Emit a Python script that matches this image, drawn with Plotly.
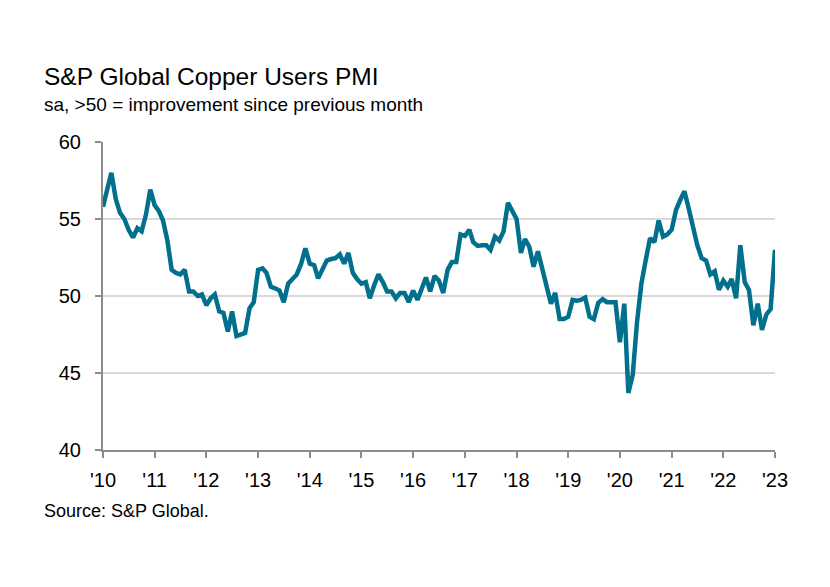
import pandas as pd
import plotly.graph_objects as go

# Monthly PMI readings (sa), Jan 2010 - Jan 2023
pmi_2010 = [55.8, 57.0, 58.0, 56.3, 55.4, 55.0, 54.3, 53.8, 54.4, 54.2, 55.3, 56.9]
pmi_2011 = [55.9, 55.5, 54.9, 53.6, 51.7, 51.5, 51.4, 51.7, 50.3, 50.3, 50.0, 50.1]
pmi_2012 = [49.4, 49.85, 50.1, 49.0, 48.9, 47.7, 49.0, 47.4, 47.5, 47.6, 49.2, 49.6]
pmi_2013 = [51.7, 51.8, 51.5, 50.6, 50.5, 50.35, 49.6, 50.8, 51.1, 51.4, 52.1, 53.1]
pmi_2014 = [52.1, 52.0, 51.15, 51.8, 52.3, 52.4, 52.45, 52.7, 52.1, 52.8, 51.5, 51.1]
pmi_2015 = [50.8, 50.9, 49.85, 50.7, 51.4, 50.9, 50.3, 50.3, 49.85, 50.2, 50.2, 49.6]
pmi_2016 = [50.35, 49.75, 50.4, 51.2, 50.3, 51.3, 51.0, 50.2, 51.7, 52.2, 52.2, 54.0]
pmi_2017 = [53.9, 54.3, 53.5, 53.25, 53.3, 53.3, 53.0, 53.85, 53.6, 54.2, 56.05, 55.5]
pmi_2018 = [55.0, 52.8, 53.7, 53.2, 51.9, 52.9, 51.7, 50.6, 49.5, 50.2, 48.5, 48.5]
pmi_2019 = [48.65, 49.75, 49.7, 49.75, 49.9, 48.65, 48.5, 49.55, 49.8, 49.6, 49.6, 49.6]
pmi_2020 = [47.0, 49.5, 43.7, 44.9, 48.3, 50.8, 52.3, 53.75, 53.5, 54.9, 53.85, 54.0]
pmi_2021 = [54.3, 55.6, 56.2, 56.8, 55.7, 54.4, 53.3, 52.45, 52.3, 51.4, 51.6, 50.4]
pmi_2022 = [51.0, 50.6, 51.1, 49.85, 53.3, 50.9, 50.4, 48.1, 49.5, 47.8, 48.8, 49.15]
pmi_2023 = [53.0]

year_ticks = ["'10", "'11", "'12", "'13", "'14", "'15", "'16", "'17",
              "'18", "'19", "'20", "'21", "'22", "'23"]
y_ticks = [40, 45, 50, 55, 60]

values = (pmi_2010 + pmi_2011 + pmi_2012 + pmi_2013 + pmi_2014 + pmi_2015 +
          pmi_2016 + pmi_2017 + pmi_2018 + pmi_2019 + pmi_2020 + pmi_2021 +
          pmi_2022 + pmi_2023)
dates = pd.date_range("2010-01-01", periods=len(values), freq="MS")
tick_dates = pd.date_range("2010-01-01", periods=len(year_ticks), freq="YS")

# window is 830x587; the page body adds an 8px margin around the figure
OFF = 8
W, H = 830 - 2 * OFF, 587 - 2 * OFF
L, R, T, B = 102.5, 775.3, 141.7, 450.2   # plot-area edges in window pixels


def px_x(x):
    return (x - L) / (R - L)


def px_y(y):
    return (B - y) / (B - T)


FONT = "Liberation Sans, Arial, sans-serif"
LINE = "#00708C"

fig = go.Figure()
fig.add_trace(go.Scatter(
    x=dates, y=values, mode="lines",
    line=dict(color=LINE, width=4.5),
    hoverinfo="x+y", showlegend=False,
))

fig.update_layout(
    width=W, height=H,
    margin=dict(l=L - OFF, r=W - (R - OFF), t=T - OFF, b=H - (B - OFF), pad=0),
    paper_bgcolor="white", plot_bgcolor="white",
    font=dict(family=FONT, color="#000000"),
    xaxis=dict(
        range=[dates[0], tick_dates[-1]],
        tickvals=tick_dates, ticktext=year_ticks,
        showgrid=False, zeroline=False,
        showline=True, linecolor="#8c8c8c", linewidth=2,
        ticks="outside", ticklen=6, tickwidth=1.5, tickcolor="#8c8c8c",
        tickfont=dict(size=20, family=FONT, color="#000000"),
        ticklabelstandoff=5,
    ),
    yaxis=dict(
        range=[40, 60], tickvals=y_ticks,
        showgrid=True, gridcolor="#d9d9d9", gridwidth=1.5,
        zeroline=False,
        showline=True, linecolor="#8c8c8c", linewidth=2,
        ticks="outside", ticklen=6, tickwidth=1.5, tickcolor="#8c8c8c",
        tickfont=dict(size=20, family=FONT, color="#000000"),
        ticklabelstandoff=10,
    ),
    annotations=[
        dict(text="S&P Global Copper Users PMI", xref="paper", yref="paper",
             x=px_x(41), y=px_y(76), xanchor="left", yanchor="middle",
             showarrow=False, font=dict(size=24.5, family=FONT, color="#000000")),
        dict(text="sa, >50 = improvement since previous month", xref="paper", yref="paper",
             x=px_x(41), y=px_y(104), xanchor="left", yanchor="middle",
             showarrow=False, font=dict(size=19, family=FONT, color="#000000")),
        dict(text="Source: S&P Global.", xref="paper", yref="paper",
             x=px_x(41), y=px_y(511), xanchor="left", yanchor="middle",
             showarrow=False, font=dict(size=18, family=FONT, color="#000000")),
    ],
)

fig.write_html("out.html")
